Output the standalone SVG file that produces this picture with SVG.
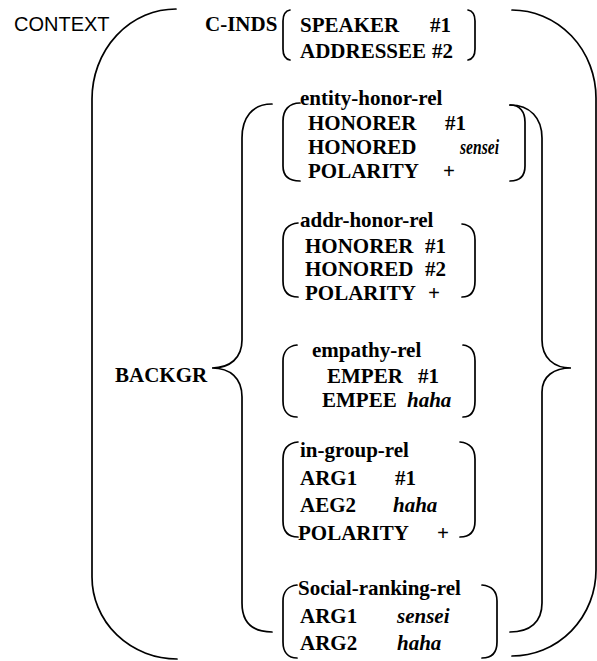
<svg xmlns="http://www.w3.org/2000/svg" width="597" height="661" viewBox="0 0 597 661">
<style>
.br{fill:none;stroke:#000;stroke-width:1.7;stroke-linecap:round}
.t{font-family:'Liberation Serif','Times New Roman',Times,serif;font-weight:700;font-size:21px;fill:#000}
.i{font-style:italic}
.s{font-family:'Liberation Sans',Arial,sans-serif;font-size:20px;fill:#000}
</style>
<rect width="597" height="661" fill="#fff"/>
<g id="context">
<text class="s" x="14" y="31">CONTEXT</text>
<path class="br" d="M176,9 A84,90 0 0 0 92,99 L92,577 A85,82 0 0 0 177,659"/>
<path class="br" d="M512,10 A84,88 0 0 1 596,98 L596,570 A84,86 0 0 1 512,656"/>
</g>
<g id="c-inds">
<text class="t" x="205" y="31">C-INDS</text>
<path class="br" d="M290,10 C285,11 283,15 283,21 L283,49 C283,55 285,59 290,60"/>
<path class="br" d="M468,10 C473,11 475,15 475,21 L475,49 C475,55 473,59 468,60"/>
<text class="t" x="300" y="32">SPEAKER</text><text class="t" x="430" y="32">#1</text>
<text class="t" x="300" y="58">ADDRESSEE</text><text class="t" x="432" y="58">#2</text>
</g>
<g id="backgr">
<text class="t" x="115" y="382">BACKGR</text>
<path class="br" d="M272,104 C252,104 242,118 242,138 L242,340 C242,358 230,368 212,368 C230,368 242,378 242,397 L242,603 C242,622 252,632 272,632"/>
<path class="br" d="M510,105 C530,105 542,118 542,138 L542,340 C542,358 554,368 571,368 C554,368 542,376 542,392 L542,603 C542,622 530,632 510,632"/>
</g>
<g id="entity-honor-rel">
<path class="br" d="M300,103 C289,103 283,110 283,121 L283,166 C283,176 289,181 300,181"/>
<path class="br" d="M510,105 C520,105 525,112 525,122 L525,166 C525,176 520,181 510,181"/>
<text class="t" x="300" y="105">entity-honor-rel</text>
<text class="t" x="308" y="130">HONORER</text><text class="t" x="445" y="130">#1</text>
<text class="t" x="308" y="154">HONORED</text><text class="t i" x="460" y="154" textLength="39" lengthAdjust="spacingAndGlyphs">sensei</text>
<text class="t" x="308" y="178">POLARITY</text><text class="t" x="443" y="178">+</text>
</g>
<g id="addr-honor-rel">
<path class="br" d="M298,223 C288,224 283,230 283,240 L283,281 C283,291 288,297 298,297"/>
<path class="br" d="M462,224 C471,225 475,231 475,240 L475,281 C475,291 471,297 462,297"/>
<text class="t" x="300" y="227">addr-honor-rel</text>
<text class="t" x="305" y="253">HONORER</text><text class="t" x="425" y="253">#1</text>
<text class="t" x="305" y="276">HONORED</text><text class="t" x="425" y="276">#2</text>
<text class="t" x="305" y="300">POLARITY</text><text class="t" x="428" y="300">+</text>
</g>
<g id="empathy-rel">
<path class="br" d="M297,345 C288,346 283,352 283,361 L283,401 C283,411 288,417 297,417"/>
<path class="br" d="M463,345 C471,346 475,352 475,361 L475,401 C475,411 471,417 463,417"/>
<text class="t" x="312" y="357">empathy-rel</text>
<text class="t" x="327" y="383">EMPER</text><text class="t" x="418" y="383">#1</text>
<text class="t" x="322" y="407">EMPEE</text><text class="t i" x="407" y="407">haha</text>
</g>
<g id="in-group-rel">
<path class="br" d="M298,442 C288,443 283,449 283,459 L283,521 C283,531 288,537 298,537"/>
<path class="br" d="M460,442 C470,443 475,449 475,459 L475,521 C475,531 470,537 460,537"/>
<text class="t" x="300" y="457">in-group-rel</text>
<text class="t" x="300" y="485">ARG1</text><text class="t" x="395" y="485">#1</text>
<text class="t" x="300" y="512">AEG2</text><text class="t i" x="393" y="512">haha</text>
<text class="t" x="298" y="540">POLARITY</text><text class="t" x="437" y="540">+</text>
</g>
<g id="social-ranking-rel">
<path class="br" d="M297,585 C288,586 283,592 283,601 L283,642 C283,652 288,658 297,658"/>
<path class="br" d="M482,585 C492,586 497,592 497,601 L497,642 C497,652 492,658 482,658"/>
<text class="t" x="298" y="595">Social-ranking-rel</text>
<text class="t" x="300" y="623">ARG1</text><text class="t i" x="397" y="623">sensei</text>
<text class="t" x="300" y="650">ARG2</text><text class="t i" x="397" y="650">haha</text>
</g>
<g id="connectors"/>
</svg>
